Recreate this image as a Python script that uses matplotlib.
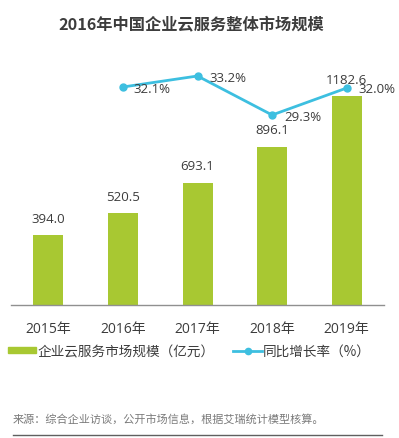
import matplotlib
matplotlib.use("Agg")
import matplotlib.pyplot as plt
import numpy as np
from matplotlib.patches import Rectangle
from matplotlib.lines import Line2D

plt.rcParams['font.family'] = ['Open Sans', 'Noto Sans CJK SC', 'DejaVu Sans']
CJK = ['Noto Sans CJK SC', 'DejaVu Sans']

years = ["2015年", "2016年", "2017年", "2018年", "2019年"]
market = [394.0, 520.5, 693.1, 896.1, 1182.6]
growth_years_idx = [1, 2, 3, 4]
growth = [32.1, 33.2, 29.3, 32.0]

bar_color = "#a8c832"
line_color = "#3dbfe0"
text_color = "#3c3c3c"

fig = plt.figure(figsize=(3.99, 4.38), dpi=100)
W, H = 399, 438
ax_left, ax_right = 11, 384
ax_bottom, ax_top = 305, 50
ax = fig.add_axes([ax_left / W, (H - ax_bottom) / H, (ax_right - ax_left) / W, (ax_bottom - ax_top) / H])

x = np.arange(len(years))
bar_w = 30 / 74.6
ax.bar(x, market, width=bar_w, color=bar_color, zorder=2)
ax.set_xlim(-0.5, 4.5)
ax.set_ylim(0, 255 / 0.1767)
for xi, v in zip(x, market):
    ax.annotate(f"{v:.1f}", (xi, v), xytext=(0, 16), textcoords="offset pixels",
                ha="center", va="center", fontsize=9.5, color=text_color)

for s in ["top", "right", "left"]:
    ax.spines[s].set_visible(False)
ax.spines["bottom"].set_color("#909090")
ax.spines["bottom"].set_linewidth(1.0)
ax.set_yticks([])
ax.set_xticks(x)
ax.set_xticklabels(years, fontsize=10, color=text_color)
ax.tick_params(axis="x", length=0, pad=12)

ax2 = ax.twinx()
ax2.set_ylim(33.2 - 229 / 10, 33.2 + 26 / 10)
ax2.plot(growth_years_idx, growth, color=line_color, lw=2, marker="o", ms=5, zorder=3)
ax2.axis("off")
offsets = [(11, -2), (12, -2), (12, -2), (12, -1.5)]
for xi, g, (dx, dy) in zip(growth_years_idx, growth, offsets):
    ax2.annotate(f"{g:.1f}%", (xi, g), xytext=(dx, dy), textcoords="offset pixels",
                 ha="left", va="center", fontsize=9.5, color=text_color)

fig.text(191.5 / W, 1 - 25 / H, "2016年中国企业云服务整体市场规模", ha="center", va="center",
         fontsize=11.7, fontweight="bold", color=text_color, family=CJK)

# legend
ly = 1 - 352 / H
fig.patches.append(Rectangle((8 / W, 1 - 353 / H), 28 / W, 6 / H, transform=fig.transFigure,
                             color=bar_color, figure=fig))
fig.text(37 / W, ly, "企业云服务市场规模（亿元）", ha="left", va="center", fontsize=9.8,
         color=text_color, family=CJK)
fig.lines.append(Line2D([233 / W, 262 / W], [1 - 350.5 / H, 1 - 350.5 / H], transform=fig.transFigure,
                        color=line_color, lw=2, figure=fig))
fig.lines.append(Line2D([247.5 / W], [1 - 350.5 / H], transform=fig.transFigure, color=line_color,
                        marker="o", ms=4.5, figure=fig))
fig.text(263 / W, ly, "同比增长率（%）", ha="left", va="center", fontsize=9.8, color=text_color, family=CJK)

fig.text(13 / W, 1 - 419.5 / H, "来源：综合企业访谈，公开市场信息，根据艾瑞统计模型核算。", ha="left", va="center",
         fontsize=8, color="#7a7a7a", family=CJK)
fig.lines.append(Line2D([13 / W, 382 / W], [1 - 435 / H, 1 - 435 / H], transform=fig.transFigure,
                        color="#606060", lw=1, figure=fig))

fig.savefig("out.png", dpi=100)
